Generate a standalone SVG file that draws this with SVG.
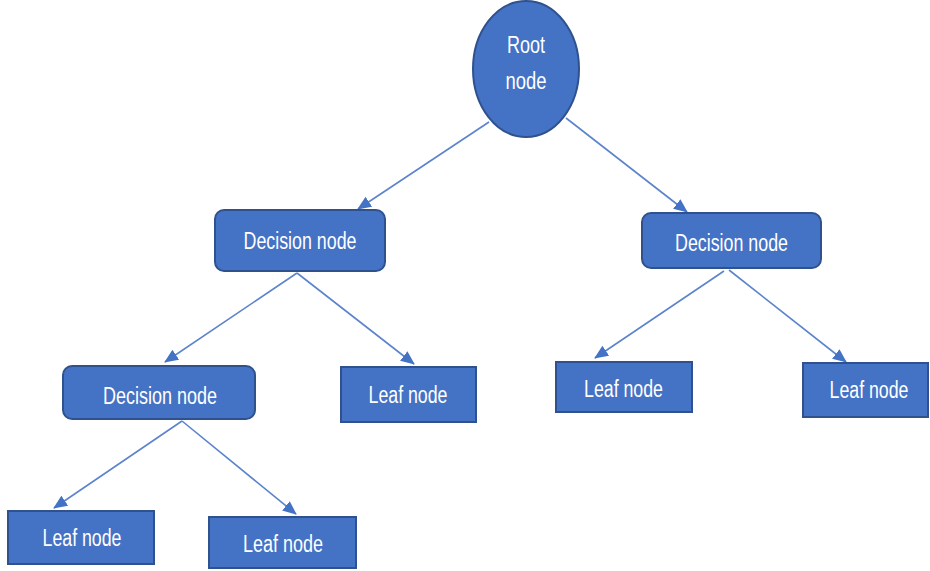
<svg xmlns="http://www.w3.org/2000/svg" width="930" height="571" viewBox="0 0 930 571">
<style>
.n{fill:#4472C4;stroke:#2F528F;stroke-width:2}
.t{fill:#fff;font-family:"Liberation Sans",Arial,sans-serif;font-size:23px;text-anchor:middle}
.c{stroke:#5B84CC;stroke-width:1.6;fill:none;marker-end:url(#ah)}
</style>
<defs>
<marker id="ah" markerUnits="userSpaceOnUse" markerWidth="14" markerHeight="12" viewBox="0 0 14 12" refX="13" refY="6" orient="auto">
<path d="M0,0 L14,6 L0,12 Z" fill="#4472C4"/>
</marker>
</defs>
<rect width="930" height="571" fill="#fff"/>
<g id="connectors">
<line class="c" x1="489" y1="122" x2="358" y2="209"/>
<line class="c" x1="566" y1="118" x2="687" y2="212"/>
<line class="c" x1="297" y1="273" x2="165" y2="362"/>
<line class="c" x1="297" y1="273" x2="414" y2="364"/>
<line class="c" x1="182" y1="421" x2="54" y2="508"/>
<line class="c" x1="182" y1="421" x2="296" y2="514"/>
<line class="c" x1="724" y1="271" x2="595" y2="358"/>
<line class="c" x1="729" y1="270" x2="846" y2="362"/>
</g>
<g id="root">
<ellipse class="n" cx="526" cy="69" rx="53" ry="68"/>
<text class="t" x="526" y="53" textLength="38" lengthAdjust="spacingAndGlyphs">Root</text>
<text class="t" x="526" y="89" textLength="41" lengthAdjust="spacingAndGlyphs">node</text>
</g>
<g id="decision-left">
<rect class="n" x="215" y="210" width="170" height="61" rx="9"/>
<text class="t" x="300" y="249" textLength="113" lengthAdjust="spacingAndGlyphs">Decision node</text>
</g>
<g id="decision-right">
<rect class="n" x="642" y="213" width="179" height="55" rx="9"/>
<text class="t" x="731.5" y="251" textLength="113" lengthAdjust="spacingAndGlyphs">Decision node</text>
</g>
<g id="decision-lower">
<rect class="n" x="63" y="366" width="192" height="53" rx="9"/>
<text class="t" x="160" y="404" textLength="114" lengthAdjust="spacingAndGlyphs">Decision node</text>
</g>
<g id="leaf-middle">
<rect class="n" x="341" y="367" width="135" height="55"/>
<text class="t" x="408" y="403" textLength="79" lengthAdjust="spacingAndGlyphs">Leaf node</text>
</g>
<g id="leaf-right-1">
<rect class="n" x="556" y="362" width="136" height="50"/>
<text class="t" x="623.5" y="397" textLength="79" lengthAdjust="spacingAndGlyphs">Leaf node</text>
</g>
<g id="leaf-right-2">
<rect class="n" x="803" y="363" width="125" height="54"/>
<text class="t" x="869" y="398" textLength="79" lengthAdjust="spacingAndGlyphs">Leaf node</text>
</g>
<g id="leaf-bottom-1">
<rect class="n" x="8" y="511" width="146" height="53"/>
<text class="t" x="82" y="546" textLength="79" lengthAdjust="spacingAndGlyphs">Leaf node</text>
</g>
<g id="leaf-bottom-2">
<rect class="n" x="209" y="517" width="147" height="51"/>
<text class="t" x="283" y="552" textLength="80" lengthAdjust="spacingAndGlyphs">Leaf node</text>
</g>
</svg>
